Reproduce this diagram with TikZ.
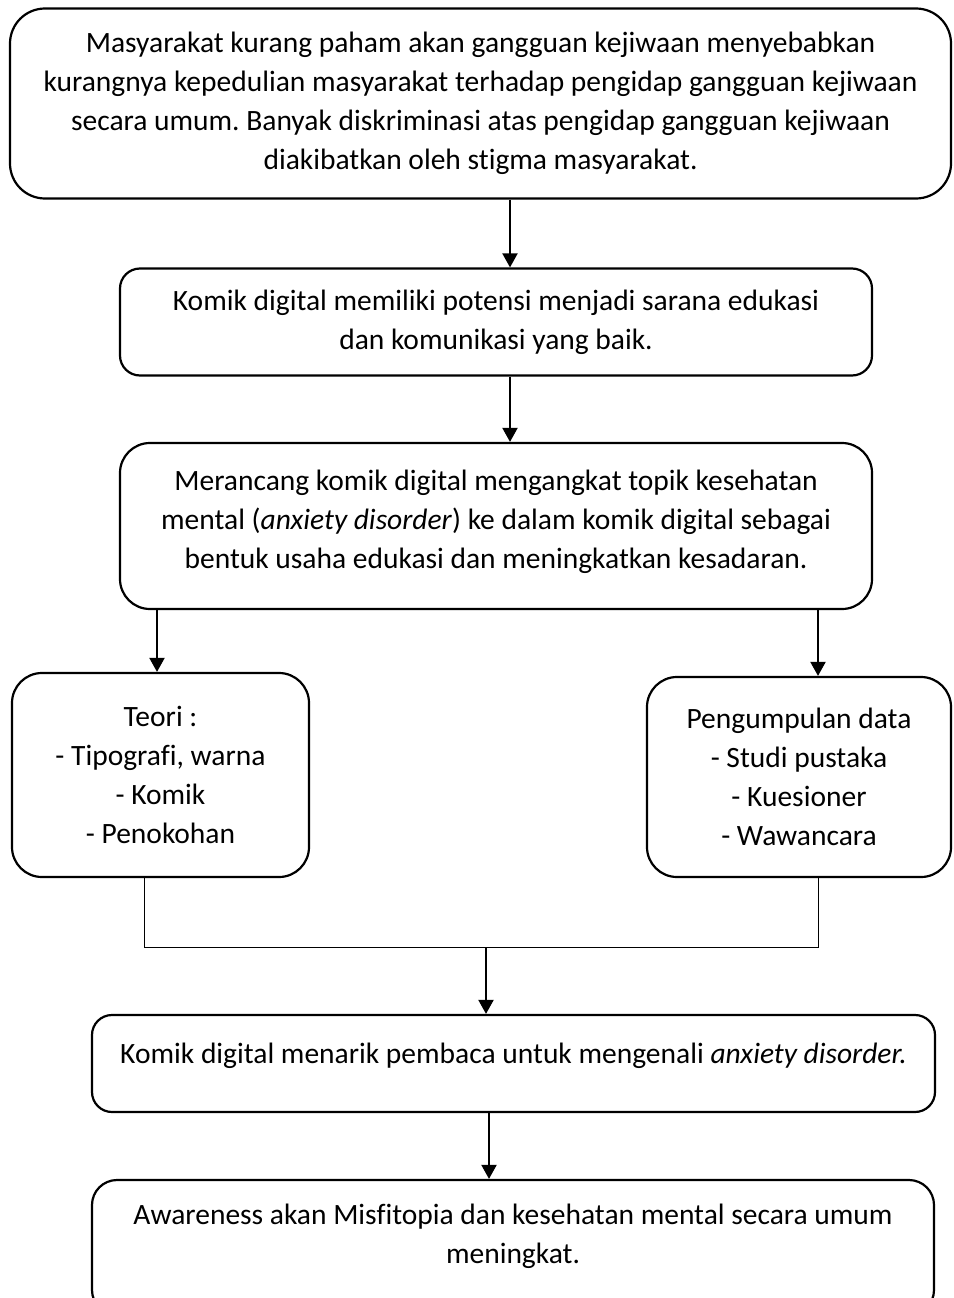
\documentclass[tikz,border=0pt]{standalone}
\usepackage{fontspec}
\setmainfont[Ligatures=NoCommon]{Carlito}
\usetikzlibrary{arrows.meta}
\begin{document}
\frenchspacing
\begin{tikzpicture}[x=1pt,y=-1pt,
  box/.style={draw,line width=2.2pt,align=center,inner sep=0pt,
    font=\fontsize{29.5}{39}\selectfont},
  txt/.style={align=center,inner sep=0pt,font=\fontsize{29.5}{39}\selectfont},
  arr/.style={line width=2pt,-{Triangle[width=15pt,length=14pt]}},
  thin/.style={line width=1pt}]
\useasboundingbox (0,0) rectangle (953,1298);
\node[box,rounded corners=35pt,minimum width=941pt,minimum height=190pt] (b1) at (480.5,103.5)
 {Masyarakat kurang paham akan gangguan kejiwaan menyebabkan\\
  kurangnya kepedulian masyarakat terhadap pengidap gangguan kejiwaan\\
  secara umum. Banyak diskriminasi atas pengidap gangguan kejiwaan\\
  diakibatkan oleh stigma masyarakat.};
\node[box,rounded corners=20pt,minimum width=752pt,minimum height=107pt] (b2) at (496,322)
 {Komik digital memiliki potensi menjadi sarana edukasi\\
  dan komunikasi yang baik.};
\node[box,rounded corners=30pt,minimum width=752pt,minimum height=166pt] (b3) at (496,526) {};
\node[txt] (t3) at (496,522)
 {Merancang komik digital mengangkat topik kesehatan\\
  mental (\textit{anxiety disorder}) ke dalam komik digital sebagai\\
  bentuk usaha edukasi dan meningkatkan kesadaran.};
\node[box,rounded corners=30pt,minimum width=297pt,minimum height=204pt] (teori) at (160.5,775)
 {Teori :\\ - Tipografi, warna\\ - Komik\\ - Penokohan};
\node[box,rounded corners=30pt,minimum width=304pt,minimum height=200pt] (data) at (799,777)
 {Pengumpulan data\\ - Studi pustaka\\ - Kuesioner\\ - Wawancara};
\node[box,rounded corners=20pt,minimum width=843pt,minimum height=97pt] (b5) at (513.5,1063.5) {};
\node[txt] (t5) at (513.5,1056)
 {Komik digital menarik pembaca untuk mengenali \textit{anxiety disorder.}};
\node[box,rounded corners=25pt,minimum width=842pt,minimum height=135pt] (b6) at (513,1247.5) {};
\node[txt] (t6) at (513,1236)
 {Awareness akan Misfitopia dan kesehatan mental secara umum\\ meningkat.};
\coordinate (x1) at (510,0);
\coordinate (xl) at (157,0);
\coordinate (xr) at (818,0);
\coordinate (xt) at (144,0);
\coordinate (j) at (486,947);
\coordinate (x5) at (489,0);
\draw[arr] (b1.south -| x1) -- (b2.north -| x1);
\draw[arr] (b2.south -| x1) -- (b3.north -| x1);
\draw[arr] (b3.south -| xl) -- (teori.north -| xl);
\draw[arr] (b3.south -| xr) -- (data.north -| xr);
\draw[thin] (teori.south -| xt) |- (j) -| (data.south -| xr);
\draw[arr] (j) -- (b5.north -| j);
\draw[arr] (b5.south -| x5) -- (b6.north -| x5);
\end{tikzpicture}
\end{document}
